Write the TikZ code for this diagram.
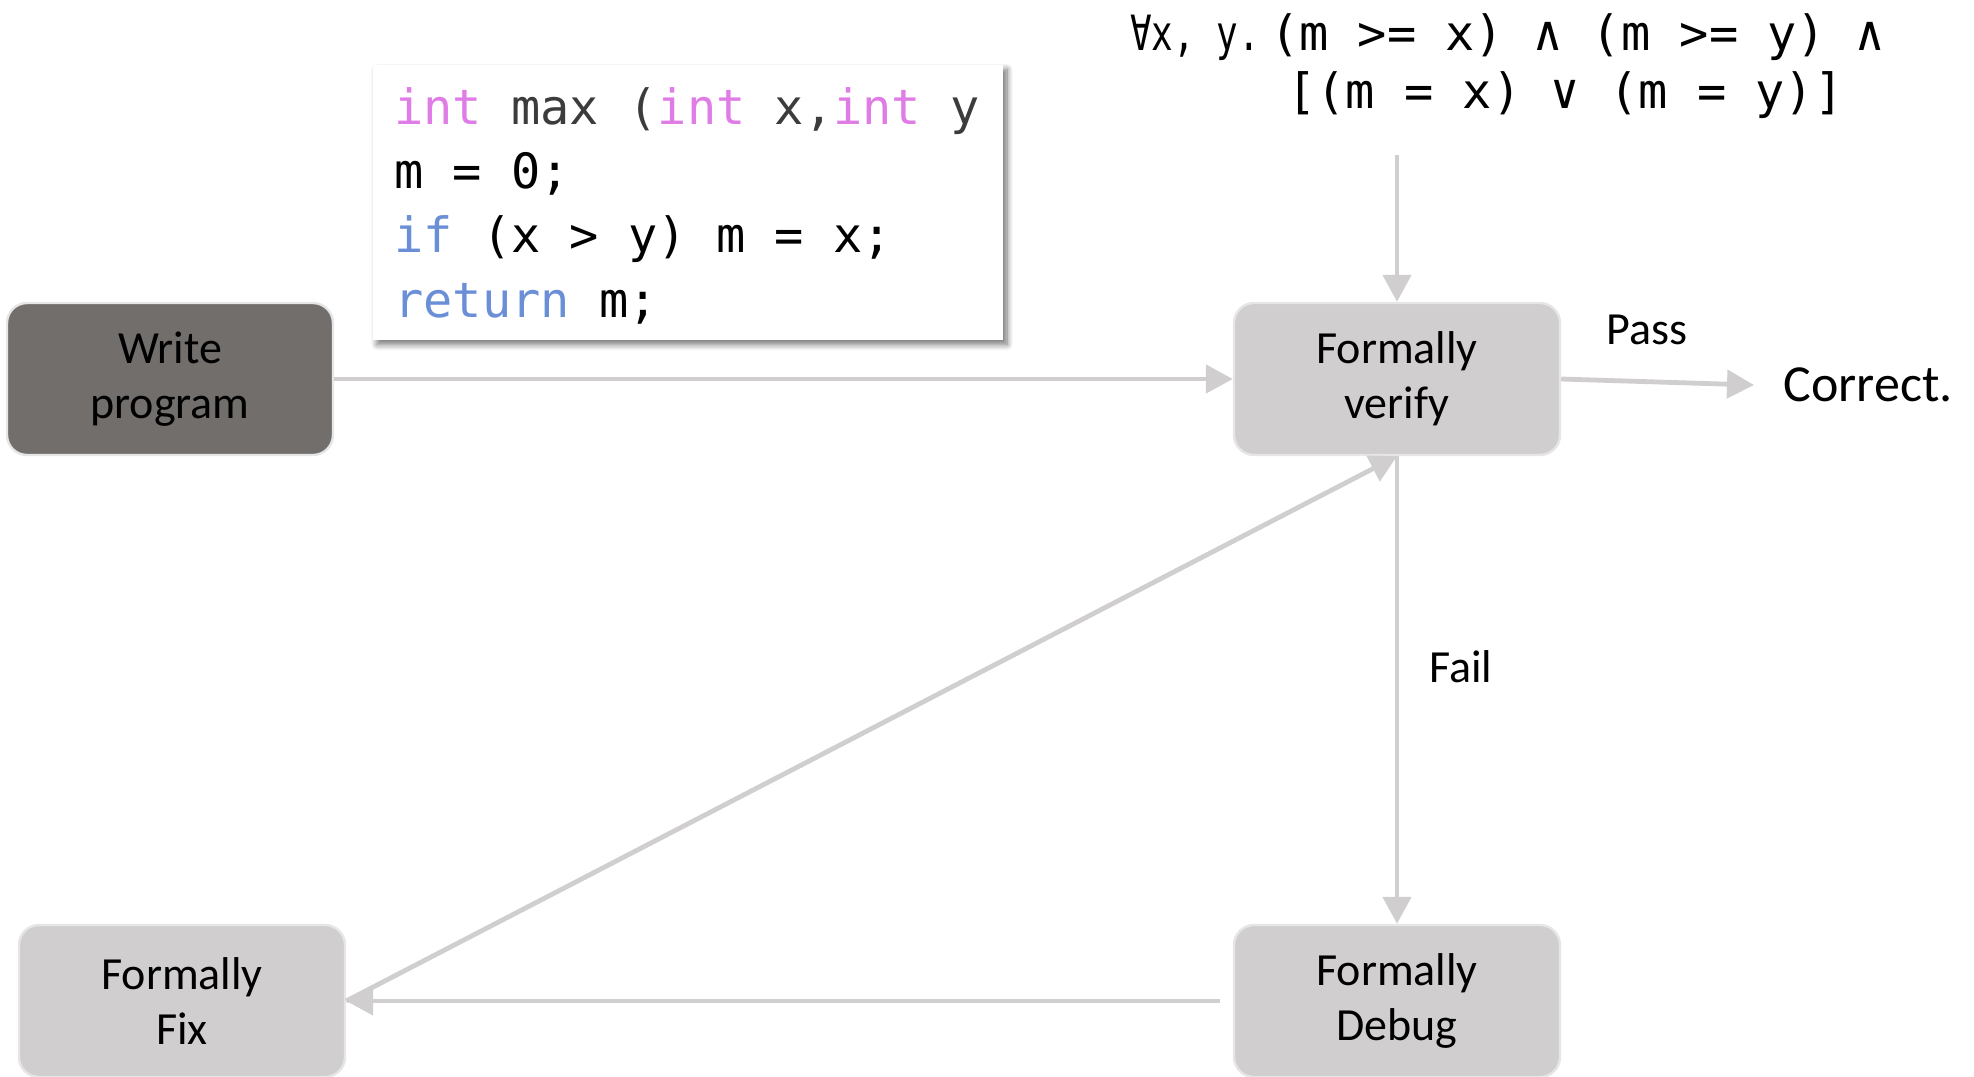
\documentclass[tikz,border=0pt]{standalone}
\usepackage{fontspec}
\usepackage{graphicx}
\setmainfont{Carlito}
\newfontfamily\codefont{DejaVu Sans Mono}
\usetikzlibrary{arrows.meta,shadows.blur}
\definecolor{arrgray}{HTML}{D0CECE}
\definecolor{lightfill}{HTML}{D0CECF}
\definecolor{darkfill}{HTML}{726E6C}
\definecolor{boxedge}{HTML}{E6E6E6}
\definecolor{kwpink}{HTML}{E07CE6}
\definecolor{kwblue}{HTML}{6B8FD6}
\definecolor{codedark}{HTML}{3C3C3C}
\begin{document}
\begin{tikzpicture}[x=0.5pt,y=-0.5pt,
  procbox/.style={rounded corners=10pt, minimum width=163pt, minimum height=76pt,
    draw=boxedge, line width=1.2pt, align=center, text=black,
    font=\fontsize{23}{27.5}\selectfont},
  lightbox/.style={procbox, fill=lightfill},
  darkbox/.style={procbox, fill=darkfill},
  flow/.style={draw=arrgray, line width=2.4pt, -{Triangle[length=13.5pt,width=14pt]}},
  edgetext/.style={inner sep=0pt, text=black, font=\fontsize{23}{25}\selectfont},
  codebox/.style={fill=white, minimum width=315pt, minimum height=137.5pt, inner sep=0pt,
    blur shadow={shadow xshift=2pt, shadow yshift=-2.5pt, shadow blur radius=3pt,
      shadow blur steps=10, shadow opacity=55}},
  codeline/.style={anchor=base west, inner sep=0pt, text=black,
    font=\codefont\fontsize{24.3}{30}\selectfont},
  formula/.style={inner sep=0pt, text=black, font=\codefont\fontsize{24.3}{30}\selectfont}]
\useasboundingbox (0,0) rectangle (1974,1076);

% process boxes
\node[darkbox]  (write)  at (170,379)  {Write\\program};
\node[lightbox] (verify) at (1397,379) {Formally\\verify};
\node[lightbox] (debug)  at (1397,1001) {Formally\\Debug};
\node[lightbox] (fix)    at (182,1001) {Formally\\Fix};

% code listing
\node[codebox] (code) at (688,202) {};
\node[codeline] (c1) at (394,124) {\textcolor{kwpink}{int} \textcolor{codedark}{max (}\textcolor{kwpink}{int} \textcolor{codedark}{x,}\textcolor{kwpink}{int} \textcolor{codedark}{y}};
\node[codeline] (c2) at (394,188) {m = 0;};
\node[codeline] (c3) at (394,252) {\textcolor{kwblue}{if} (x > y) m = x;};
\node[codeline] (c4) at (394,317) {\textcolor{kwblue}{return} m;};

% specification
\node[formula, anchor=base east] (f1) at (1885,50) {\scalebox{0.74}[1]{∀x, y.}\kern5pt(m >= x) ∧ (m >= y) ∧};
\node[formula, anchor=base west] (f2) at (1287,108) {[(m = x) ∨ (m = y)]};

% labels
\node[edgetext, anchor=west, font=\fontsize{26}{28}\selectfont] (correct) at (1783,385) {Correct.};
\node[edgetext] (pass) at (1647,330) {Pass};
\node[edgetext] (fail) at (1461,667) {Fail};

% connectors
\coordinate (ftop) at (1397,155);
\draw[flow] (ftop) -- (verify.north);
\draw[flow] (write.east) -- (verify.west);
\draw[flow] (verify.east) -- ([xshift=-14.5pt]correct.west);
\draw[flow] (verify.south) -- (debug.north);
\draw[flow, shorten <=6.5pt] (debug.west) -- (fix.east);
\draw[flow] (fix.east) -- (verify.south);
\end{tikzpicture}
\end{document}
